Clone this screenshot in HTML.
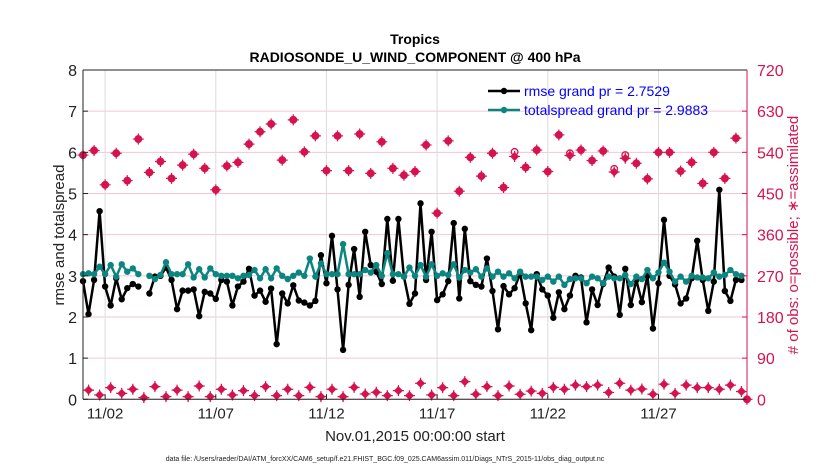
<!DOCTYPE html>
<html><head><meta charset="utf-8"><style>
html,body{margin:0;padding:0;background:#fff;width:830px;height:470px;overflow:hidden}
svg{display:block;font-family:"Liberation Sans",sans-serif}
</style></head><body>
<svg id="chart" width="830" height="470" viewBox="0 0 830 470" xmlns="http://www.w3.org/2000/svg">
<g id="grid"></g>
<g id="marks"></g>
<g id="axes"></g>
<text x="415" y="44" text-anchor="middle" font-size="14" font-weight="bold">Tropics</text>
<text x="415" y="62" text-anchor="middle" font-size="14" font-weight="bold">RADIOSONDE_U_WIND_COMPONENT @ 400 hPa</text>
<text transform="translate(64,235) rotate(-90)" text-anchor="middle" font-size="15" fill="#222">rmse and totalspread</text>
<text transform="translate(798,235) rotate(-90)" text-anchor="middle" font-size="15" fill="#d6134f"># of obs: o=possible; ∗=assimilated</text>
<text x="415" y="441" text-anchor="middle" font-size="15" fill="#222">Nov.01,2015 00:00:00 start</text>
<text x="385" y="461" text-anchor="middle" font-size="7" fill="#222">data file: /Users/raeder/DAI/ATM_forcXX/CAM6_setup/f.e21.FHIST_BGC.f09_025.CAM6assim.011/Diags_NTrS_2015-11/obs_diag_output.nc</text>
<g>
<g>
<line x1="488" y1="91" x2="520" y2="91" stroke="#000" stroke-width="2.5"/><circle cx="504" cy="91" r="3.2" fill="#000"/>
<text x="524" y="96" font-size="14" fill="#0000ff">rmse grand pr = 2.7529</text></g>
<g>
<line x1="488" y1="110" x2="520" y2="110" stroke="#0b8580" stroke-width="2.5"/><circle cx="504" cy="110" r="3.2" fill="#0b8580"/>
<text x="524" y="115" font-size="14" fill="#0000ff">totalspread grand pr = 2.9883</text></g>
</g>
</svg>
<script>
// data: index i -> time = i*0.25 days after Nov 01 00Z
const rmse=[2.87,2.07,2.9,4.57,2.74,2.28,2.94,2.43,2.7,2.8,2.74,null,2.57,2.98,3.0,3.2,2.9,2.19,2.64,2.64,2.67,2.02,2.61,2.57,2.44,2.9,2.86,2.28,2.74,2.86,3.17,2.52,2.64,2.37,2.69,1.34,2.57,2.33,2.77,2.4,2.35,2.28,2.39,3.5,2.82,3.97,2.67,1.2,2.78,3.65,2.49,4.07,3.26,3.1,2.8,4.38,2.88,4.38,2.98,2.32,2.57,4.76,2.9,4.07,2.41,2.55,2.87,4.28,2.45,4.14,2.87,2.78,2.74,3.42,2.63,1.7,2.75,2.55,2.7,3.06,2.33,1.68,3.04,2.67,2.52,1.98,2.6,2.19,2.52,3.0,2.96,1.87,2.67,2.29,2.8,3.2,2.98,2.05,3.17,2.29,2.9,2.36,3.0,1.72,2.82,4.36,3.0,2.79,2.33,2.45,2.94,3.85,2.9,2.15,2.86,5.09,2.63,2.39,2.9,2.9];
const spread=[3.04,3.06,3.04,3.22,3.04,3.26,2.98,3.28,3.1,3.18,3.04,null,3.0,2.92,3.02,3.33,3.04,3.04,3.04,3.28,2.96,3.16,2.96,3.18,3.04,3.0,3.0,3.0,2.94,3.0,3.02,3.14,2.94,3.16,2.94,3.18,3.0,2.92,3.0,3.08,3.0,3.42,2.98,3.3,3.04,3.04,3.04,3.77,3.04,3.04,3.04,3.14,3.08,3.26,3.0,3.55,3.04,3.04,2.98,3.2,3.0,3.26,2.98,3.28,3.0,3.06,3.02,3.28,2.96,3.14,3.08,3.16,2.98,3.18,2.98,3.1,2.98,3.06,2.94,3.1,2.98,2.98,2.98,2.9,2.98,2.86,2.98,2.78,2.92,2.94,2.94,2.82,2.98,2.94,2.82,2.98,2.94,2.94,3.02,2.8,2.98,2.92,3.14,2.94,3.08,3.32,3.1,2.86,2.98,2.86,3.0,2.96,2.96,2.94,3.08,2.98,3.02,3.14,3.04,3.0];
// obs counts at 00Z (even indices) and 12Z (odd indices)
const obsEvenAssim=[534,544,469,538,478,569,496,520,483,512,536,505,458,510,518,558,585,602,523,611,541,576,500,576,500,580,494,563,505,490,498,556,407,565,455,529,488,538,463,531,507,545,498,578,533,545,522,543,497,527,516,482,540,540,499,518,472,540,483,571,0];
const obsEvenPoss=[534,544,469,538,478,569,496,520,483,512,536,505,458,510,518,558,585,602,523,611,541,576,500,576,500,580,494,563,505,490,498,556,407,565,455,529,488,538,463,541,507,545,498,578,538,545,522,543,504,534,516,482,540,540,499,518,472,540,483,571,0];
const obsOdd=[20,9.5,25.5,13,22,3.6,27.7,5.8,20,5.8,29,5.8,22,9.5,19,8,27.7,8,22,8,26,5.8,22,5.8,26,11.7,15.3,8,19,8,35,9.5,25.5,8,38.6,11,27.7,8,29,11,18,13,26,22,31,27.7,31,15,35,20,22.6,11,33,13,31,25.5,25.5,22,31,17];
const yTicks=[0,1,2,3,4,5,6,7,8];
const y2Ticks=[0,90,180,270,360,450,540,630,720];
const xTickDays=[1,6,11,16,21,26];
const xTickLabels=["11/02","11/07","11/12","11/17","11/22","11/27"];

const NS="http://www.w3.org/2000/svg";
const L=83,R=747,T=70,B=399.3;
const xs=d=>L+d*(R-L)/30;
const ys=v=>B-v*(B-T)/8;
const ys2=c=>B-c*(B-T)/720;
function mk(tag,attrs,parent){const e=document.createElementNS(NS,tag);for(const k in attrs)e.setAttribute(k,attrs[k]);parent.appendChild(e);return e;}
const grid=document.getElementById('grid'),marks=document.getElementById('marks'),axes=document.getElementById('axes');

yTicks.forEach(v=>{const g=mk('line',{x1:L,x2:R,y1:ys(v),y2:ys(v),stroke:'#f2c6d4','stroke-width':1},grid);


const t=mk('text',{x:L-6,y:ys(v)+6,'text-anchor':'end','font-size':16,fill:'#222'},axes);t.textContent=v;


mk('line',{x1:L,x2:L+5,y1:ys(v),y2:ys(v),stroke:'#222'},axes);});
y2Ticks.forEach(c=>{const t=mk('text',{x:R+10,y:ys2(c)+6,'font-size':16,fill:'#d6134f'},axes);t.textContent=c;


mk('line',{x1:R-5,x2:R,y1:ys2(c),y2:ys2(c),stroke:'#d6134f'},axes);});
xTickDays.forEach((d,k)=>{const g=mk('line',{x1:xs(d),x2:xs(d),y1:T,y2:B,stroke:'#dcdcdc','stroke-width':1},grid);


mk('line',{x1:xs(d),x2:xs(d),y1:B,y2:B-5,stroke:'#222'},axes);
const t=mk('text',{x:xs(d),y:B+19,'text-anchor':'middle','font-size':15,fill:'#222'},axes);t.textContent=xTickLabels[k];

});
mk('line',{x1:L,x2:L,y1:T,y2:B,stroke:'#222','stroke-width':1},axes);
mk('line',{x1:L,x2:R,y1:B,y2:B,stroke:'#222','stroke-width':1},axes);
mk('line',{x1:L,x2:R,y1:T,y2:T,stroke:'#222','stroke-width':1},axes);
mk('line',{x1:R,x2:R,y1:T,y2:B,stroke:'#d6134f','stroke-width':1},axes);

function diamond(x,y,parent,name){const s=4.5;const p=mk('path',{d:`M${x} ${y-s}L${x+s} ${y}L${x} ${y+s}L${x-s} ${y}Z`,fill:'#d6134f'},parent);


mk('path',{d:`M${x} ${y-5.5}V${y+5.5}M${x-5.5} ${y}H${x+5.5}`,stroke:'#d6134f','stroke-width':1.2},parent);}
obsEvenPoss.forEach((c,k)=>{const x=xs(k*0.5),y=ys2(c);const o=mk('circle',{cx:x,cy:y,r:3.3,fill:'none',stroke:'#d6134f','stroke-width':1.3},marks);

});
obsEvenAssim.forEach((c,k)=>diamond(xs(k*0.5),ys2(c),marks,'obs-assimilated-point'));
obsOdd.forEach((c,k)=>diamond(xs(k*0.5+0.25),ys2(c),marks,'obs-assimilated-point'));

function series(arr,color,name){let d='',pen=false;
arr.forEach((v,i)=>{if(v===null){pen=false;return;}d+=(pen?'L':'M')+xs(i*0.25).toFixed(1)+' '+ys(v).toFixed(1);pen=true;});
const p=mk('path',{d:d,fill:'none',stroke:color,'stroke-width':2.5,'stroke-linejoin':'round'},marks);


arr.forEach((v,i)=>{if(v===null)return;const c=mk('circle',{cx:xs(i*0.25),cy:ys(v),r:3.2,fill:color},marks);

});}
series(rmse,'#000','rmse');
series(spread,'#0b8580','totalspread');
</script>
</body></html>
